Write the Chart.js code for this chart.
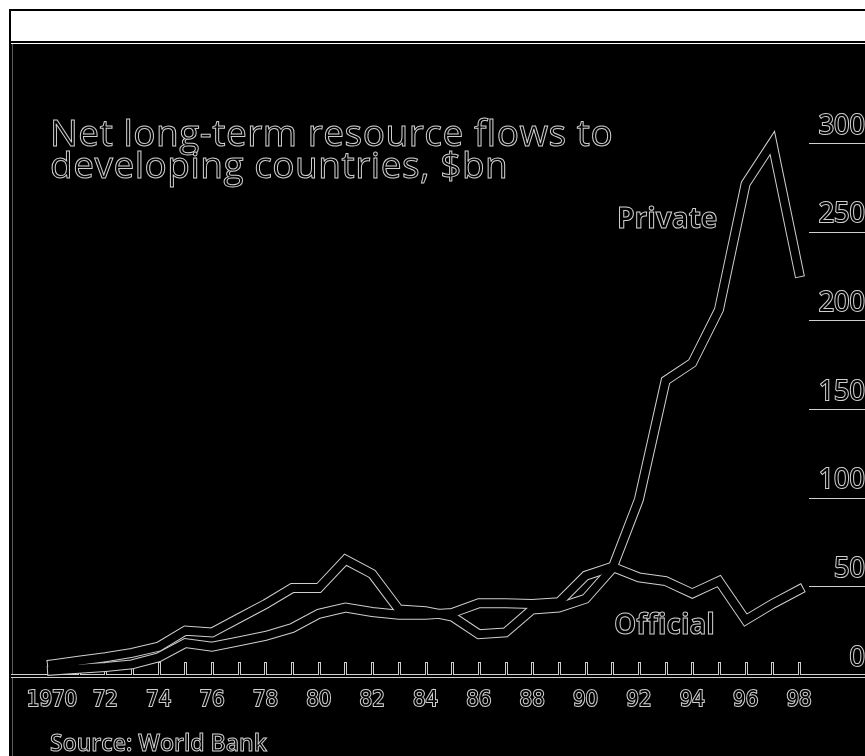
<!DOCTYPE html>
<html>
<head>
<meta charset="utf-8">
<script src="https://cdn.jsdelivr.net/npm/chart.js@4.4.1/dist/chart.umd.min.js"></script>
<style>
  html, body { margin: 0; padding: 0; background: #fff; }
  body { width: 865px; height: 756px; position: relative; overflow: hidden; }
  #frame { position: absolute; left: 9px; top: 9px; width: 856px; height: 747px; background: #000; }
  #band { position: absolute; left: 2px; top: 2px; right: 0; height: 30px; background: #fff; }
  #gap { position: absolute; left: 2px; top: 34px; right: 0; height: 1px; background: #fff; }
  #edge { position: absolute; left: 3px; top: 35px; width: 1px; bottom: 0; background: #5a5a5a; }
  #chart { position: absolute; left: 11px; top: 44px; }
  .outline { position: absolute; color: #000; -webkit-text-stroke: 1px #cfcfcf; white-space: nowrap; margin: 0; }
  #title { left: 50px; top: 116px; font: 400 37px/32px "Open Sans", sans-serif; letter-spacing: 0.5px; }
  #lblPrivate { left: 617px; top: 203px; font: 700 28px/28px "Open Sans", sans-serif; }
  #lblOfficial { left: 614px; top: 609px; font: 700 28px/28px "Open Sans", sans-serif; }
  #source { left: 50px; top: 731px; font: 600 23px/23px "Open Sans", sans-serif; }
</style>
</head>
<body>
<div id="frame">
  <div id="band"></div>
  <div id="gap"></div>
  <div id="edge"></div>
</div>
<canvas id="chart" width="854" height="712"></canvas>
<div id="title" class="outline">Net long-term resource flows to<br>developing countries, $bn</div>
<div id="lblPrivate" class="outline">Private</div>
<div id="lblOfficial" class="outline">Official</div>
<div id="source" class="outline">Source: World Bank</div>

<script>
// Years on the x axis
var years = [1970, 1971, 1972, 1973, 1974, 1975, 1976, 1977, 1978, 1979,
             1980, 1981, 1982, 1983, 1984, 1985, 1986, 1987, 1988, 1989,
             1990, 1991, 1992, 1993, 1994, 1995, 1996, 1997, 1998];

// Net long-term flows, $bn
var privateFlows = [6, 8, 10, 12.5, 16, 25, 24, 32, 40, 49,
                    49, 65, 57, 37, 36, 33, 23, 24, 37, 38,
                    43, 60, 99, 166, 176, 206, 277, 300, 227];
var officialFlows = [2.5, 3.5, 4.5, 6, 10, 18, 16, 19, 22, 26.5,
                     34.5, 38, 35.5, 34, 34, 35, 40.5, 40.5, 40, 41,
                     56, 61, 55, 53, 46, 53, 31, 40, 48];

// Right-hand scale
var yTicks = [0, 50, 100, 150, 200, 250, 300];

var EDGE = '#cfcfcf';

// Baseline, year ticks and the short rules under the scale numbers
var axisDecor = {
  id: 'axisDecor',
  beforeDatasetsDraw: function(chart) {
    var ctx = chart.ctx;
    var x = chart.scales.x;
    var y = chart.scales.y;
    var base = Math.round(y.getPixelForValue(0));
    ctx.save();

    ctx.strokeStyle = EDGE;
    ctx.lineWidth = 1;
    yTicks.forEach(function(v) {
      if (v === 0) return;
      var py = Math.round(y.getPixelForValue(v)) + 0.5;
      ctx.beginPath();
      ctx.moveTo(x.right + 10, py);
      ctx.lineTo(chart.width, py);
      ctx.stroke();
    });

    // outer (light) pass
    ctx.lineWidth = 4;
    ctx.beginPath();
    ctx.moveTo(0, base + 1);
    ctx.lineTo(chart.width, base + 1);
    ctx.stroke();
    ctx.lineWidth = 3;
    years.forEach(function(yr, i) {
      var px = Math.round(x.getPixelForValue(i)) + 0.5;
      ctx.beginPath();
      ctx.moveTo(px, base);
      ctx.lineTo(px, base - 13);
      ctx.stroke();
    });

    // inner (dark) pass
    ctx.strokeStyle = '#000';
    ctx.lineWidth = 2;
    ctx.beginPath();
    ctx.moveTo(0, base + 1);
    ctx.lineTo(chart.width, base + 1);
    ctx.stroke();
    ctx.lineWidth = 1;
    years.forEach(function(yr, i) {
      var px = Math.round(x.getPixelForValue(i)) + 0.5;
      ctx.beginPath();
      ctx.moveTo(px, base + 1);
      ctx.lineTo(px, base - 12);
      ctx.stroke();
    });
    ctx.restore();
  }
};

// Each series is drawn twice: a wide light stroke behind, a narrower black one on top
var hollowLine = function(label, data, color, width, order) {
  return {
    label: label,
    data: data,
    borderColor: color,
    borderWidth: width,
    borderJoinStyle: 'miter',
    borderCapStyle: 'square',
    pointRadius: 0,
    tension: 0,
    fill: false,
    clip: false,
    order: order
  };
};

new Chart(document.getElementById('chart'), {
  type: 'line',
  data: {
    labels: years,
    datasets: [
      hollowLine('Private', privateFlows, '#000', 8, 0),
      hollowLine('Official', officialFlows, '#000', 8, 0),
      hollowLine('Private edge', privateFlows, EDGE, 10, 1),
      hollowLine('Official edge', officialFlows, EDGE, 10, 1)
    ]
  },
  options: {
    responsive: false,
    animation: false,
    devicePixelRatio: 1,
    layout: { padding: { left: 41, right: 0, top: 99, bottom: 41 } },
    plugins: {
      legend: { display: false },
      tooltip: { enabled: false }
    },
    scales: {
      x: {
        type: 'category',
        offset: false,
        grid: { display: false },
        border: { display: false },
        afterFit: function(scale) { scale.height = 40; },
        ticks: {
          autoSkip: false,
          maxRotation: 0,
          minRotation: 0,
          padding: 4,
          color: '#000',
          textStrokeColor: EDGE,
          textStrokeWidth: 2,
          font: { family: '"DejaVu Sans Condensed", "Liberation Sans Narrow", sans-serif', size: 22 },
          callback: function(value, index) {
            var yr = years[index];
            if (index === 0) return String(yr);
            return yr % 2 === 0 ? String(yr).slice(2) : '';
          }
        }
      },
      y: {
        position: 'right',
        min: 0,
        max: 300,
        grid: { display: false },
        border: { display: false },
        afterFit: function(scale) { scale.width = 66; },
        afterBuildTicks: function(scale) {
          scale.ticks = yTicks.map(function(v) { return { value: v }; });
        },
        ticks: {
          crossAlign: 'far',
          labelOffset: -17,
          padding: 0,
          color: '#000',
          textStrokeColor: EDGE,
          textStrokeWidth: 2,
          font: { family: '"Open Sans", sans-serif', size: 27 }
        }
      }
    }
  },
  plugins: [axisDecor]
});
</script>
</body>
</html>
